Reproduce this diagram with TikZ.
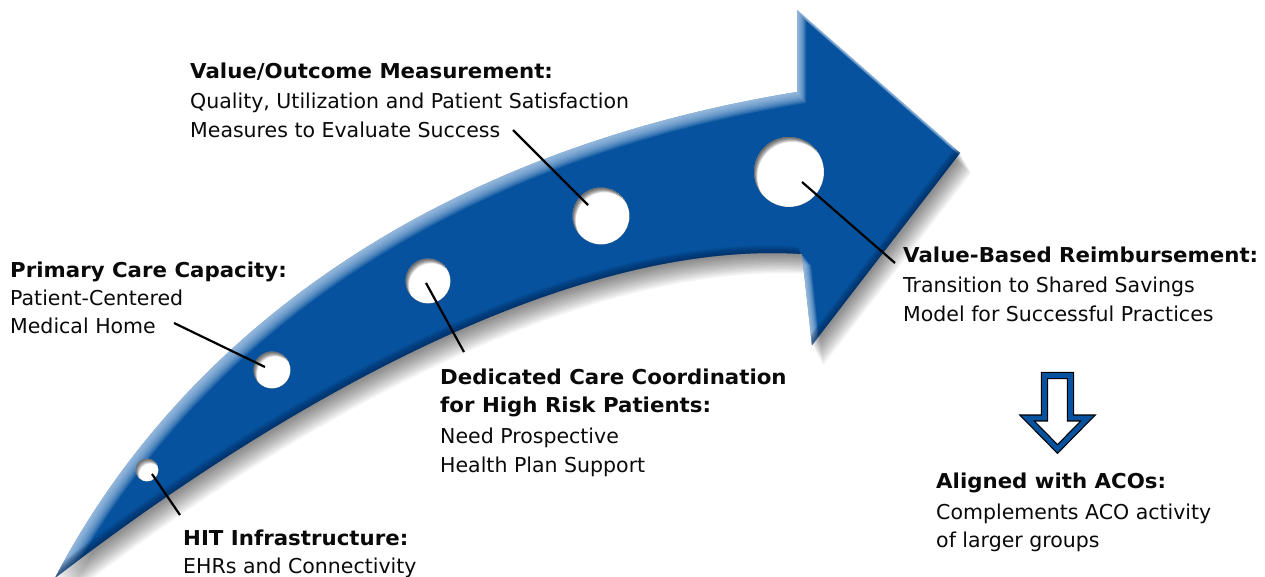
\documentclass[tikz,border=0pt]{standalone}
\usepackage{fontspec}
\setmainfont{DejaVu Sans}
\newfontfamily\headfont{DejaVu Sans}[FakeStretch=1.04]
\usetikzlibrary{calc}

\definecolor{arrowblue}{RGB}{6,82,158}
\definecolor{edgelight}{RGB}{182,209,236}
\definecolor{edgedark}{RGB}{0,36,82}
\definecolor{labelink}{RGB}{10,10,10}

% outline of the big curved arrow (screen coordinates, y grows downward)
\def\bigarrowpath{(55,578) .. controls (185,330) and (440,150) .. (797,92)
  -- (797,10) -- (960,153) -- (812,345) -- (802,254)
  .. controls (560,238) and (260,420) .. (55,578) -- cycle}

% outline of the small hollow arrow pointing down
\def\acoarrowpath{(1044.5,375.5) -- (1070.5,375.5) -- (1070.5,418) -- (1088,418)
  -- (1057.5,449) -- (1027,418) -- (1044.5,418) -- cycle}

\tikzset{
  lbl/.style={anchor=base west, inner sep=0pt, text=labelink,
              font=\fontsize{20.5}{24}\selectfont},
  lblb/.style={anchor=base west, inner sep=0pt, text=labelink,
               font=\headfont\fontsize{20.5}{24}\selectfont\bfseries},
  hole/.style={circle, fill=white, inner sep=0pt, outer sep=0pt},
  lead/.style={line width=2.2pt, black, line cap=butt},
}

\begin{document}
\begin{tikzpicture}[x=1pt, y=-1pt]
\useasboundingbox (0,0) rectangle (1265,576);
\fill[white] (0,0) rectangle (1265,576);

% soft drop shadow of the big arrow
\foreach \k in {1,...,14}
  \fill[black, opacity=0.04, shift={(0.8*\k,1.45*\k)}] \bigarrowpath;

% body of the big arrow
\fill[arrowblue] \bigarrowpath;

% bevel: light rim on the upper-left edges, dark rim on the lower-right edges
\begin{scope}
  \clip \bigarrowpath;
  \foreach \k in {1,...,10}
    \fill[edgelight, opacity=0.15, even odd rule, shift={(0.9*\k,1.1*\k)}]
      (-300,-300) rectangle (1600,900) \bigarrowpath;
  \foreach \k in {1,...,7}
    \fill[edgedark, opacity=0.12, even odd rule, shift={(-0.55*\k,-1.05*\k)}]
      (-300,-300) rectangle (1600,900) \bigarrowpath;
\end{scope}

% punched holes with an inner shadow on their upper-left rim
\foreach \cx/\cy/\rr/\nm in {147/470/11.5/h1, 272/370/18.5/h2, 428/281/22.5/h3,
                             601/216/28.5/h4, 789/172/35/h5}{
  \node[hole, minimum size=2*\rr pt] (\nm) at (\cx,\cy) {};
  \begin{scope}
    \clip (\cx,\cy) circle (\rr pt);
    \foreach \k in {1,...,6}
      \fill[black, opacity=0.13, even odd rule]
        (\cx,\cy) circle (\rr pt) ([shift={(0.55*\k,0.8*\k)}]\cx,\cy) circle (\rr pt);
  \end{scope}
}

% labels
\node[lblb] (vo1) at (190,78)  {Value/Outcome Measurement:};
\node[lbl]  (vo2) at (190,108) {Quality, Utilization and Patient Satisfaction};
\node[lbl]  (vo3) at (190,137) {Measures to Evaluate Success};

\node[lblb] (pc1) at (10,277) {Primary Care Capacity:};
\node[lbl]  (pc2) at (10,305) {Patient-Centered};
\node[lbl]  (pc3) at (10,333) {Medical Home};

\node[lblb] (vb1) at (903,262) {Value-Based Reimbursement:};
\node[lbl]  (vb2) at (903,292) {Transition to Shared Savings};
\node[lbl]  (vb3) at (903,321) {Model for Successful Practices};

\node[lblb] (dc1) at (440,384) {Dedicated Care Coordination};
\node[lblb] (dc2) at (440,412) {for High Risk Patients:};
\node[lbl]  (dc3) at (440,443) {Need Prospective};
\node[lbl]  (dc4) at (440,472) {Health Plan Support};

\node[lblb] (hi1) at (183,545) {HIT Infrastructure:};
\node[lbl]  (hi2) at (183,573) {EHRs and Connectivity};

\node[lblb] (ac1) at (936,488) {Aligned with ACOs:};
\node[lbl]  (ac2) at (936,519) {Complements ACO activity};
\node[lbl]  (ac3) at (936,547) {of larger groups};

% leader lines from the labels into the holes
\coordinate (t1) at (180,515);
\coordinate (t2) at (174,323);
\coordinate (t3) at (464,352);
\coordinate (t4) at (513,130);
\coordinate (t5) at (895,263);
\draw[lead] ([shift={(5,4)}]h1.center) -- (t1);
\draw[lead] (t2) -- ([shift={(-7,-3)}]h2.center);
\draw[lead] ([shift={(-2,2)}]h3.center) -- (t3);
\draw[lead] (t4) -- ([shift={(-13,-11)}]h4.center);
\draw[lead] ([shift={(13,10)}]h5.center) -- (t5);

% small hollow arrow leading to the ACO note
\fill[white] \acoarrowpath;
\draw[black, line width=7.2pt, line join=miter, miter limit=10] \acoarrowpath;
\draw[arrowblue, line width=4.8pt, line join=miter, miter limit=10] \acoarrowpath;
\end{tikzpicture}
\end{document}
